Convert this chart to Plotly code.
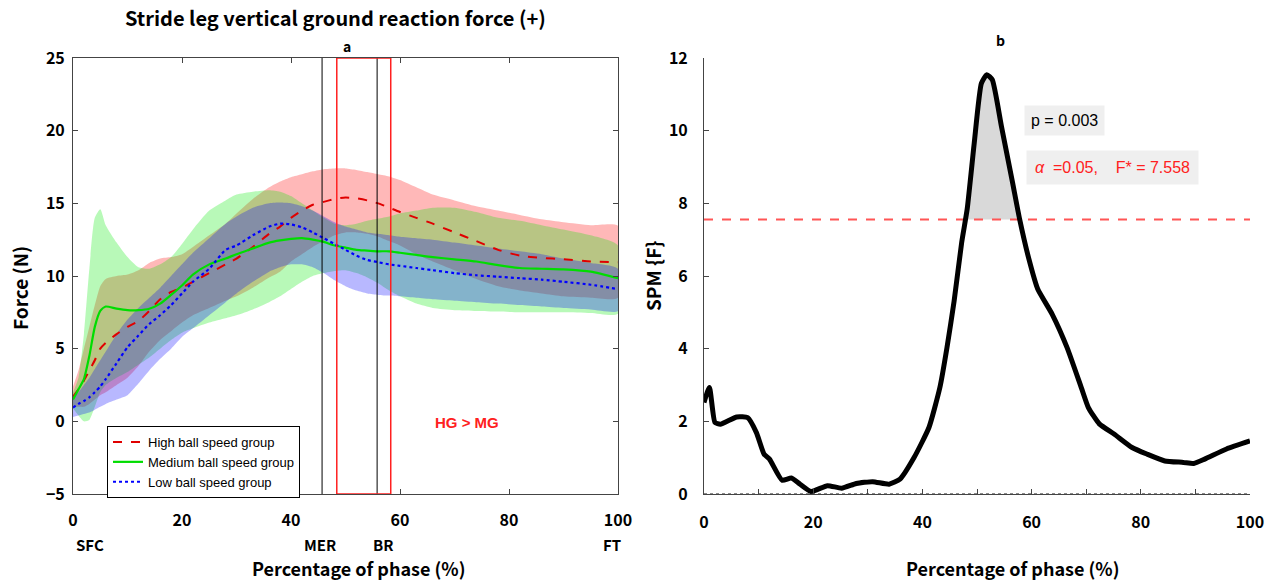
import numpy as np
import plotly.graph_objects as go

# ---------------- data ----------------
X = [0, 1, 2, 3, 4, 5, 6, 8, 10, 12, 14, 16, 18, 20, 22, 25, 28, 30, 33, 36, 38, 40, 42, 44, 46,
     48, 50, 52, 54, 56, 58, 60, 63, 66, 70, 74, 78, 82, 86, 90, 95, 100]

high_mean = [1.7, 2.2, 2.8, 3.5, 4.2, 5.0, 5.4, 6.0, 6.5, 6.9, 7.6, 8.4, 8.9, 9.2, 9.6, 10.2, 10.8, 11.2,
             12.0, 12.9, 13.4, 14.0, 14.5, 14.9, 15.1, 15.3, 15.4, 15.35, 15.2, 15.0, 14.7, 14.4, 14.0,
             13.6, 13.0, 12.4, 11.8, 11.4, 11.25, 11.15, 11.0, 10.95]
high_upper = [2.4, 3.5, 5.0, 6.5, 8.0, 9.3, 9.8, 10.0, 10.1, 10.4, 10.9, 11.2, 11.3, 11.5, 12.0, 12.8, 13.6,
              14.3, 15.3, 16.1, 16.5, 16.8, 17.0, 17.2, 17.35, 17.4, 17.4, 17.3, 17.15, 17.0, 16.85, 16.6,
              16.1, 15.6, 15.2, 14.8, 14.5, 14.2, 13.9, 13.7, 13.5, 13.45]
high_lower = [1.0, 1.0, 1.0, 1.2, 1.5, 1.8, 2.0, 2.5, 3.0, 3.8, 4.8, 5.6, 6.2, 6.8, 7.3, 7.8, 8.3, 8.6, 9.2,
              9.9, 10.3, 11.0, 11.5, 12.0, 12.4, 12.8, 13.0, 13.0, 12.9, 12.7, 12.4, 12.1, 11.5, 11.0,
              10.4, 9.8, 9.3, 9.0, 8.8, 8.6, 8.5, 8.5]

med_mean = [1.5, 2.2, 2.9, 4.5, 6.5, 7.6, 7.9, 7.75, 7.65, 7.65, 7.75, 8.1, 8.7, 9.35, 10.1, 10.8, 11.2,
            11.5, 11.9, 12.3, 12.45, 12.55, 12.6, 12.5, 12.35, 12.1, 11.95, 11.8, 11.75, 11.7, 11.7,
            11.6, 11.45, 11.3, 11.15, 11.0, 10.75, 10.55, 10.5, 10.45, 10.3, 9.85]
med_upper = [2.0, 3.0, 6.0, 10.5, 14.0, 14.6, 13.5, 12.3, 11.3, 10.6, 10.5, 10.8, 11.3, 12.2, 13.2, 14.5,
             15.2, 15.6, 15.8, 15.9, 15.8, 15.5, 15.0, 14.5, 14.0, 13.6, 13.5, 13.6, 13.8, 13.95, 14.1,
             14.3, 14.5, 14.7, 14.7, 14.4, 14.0, 13.8, 13.5, 13.2, 12.8, 12.1]
med_lower = [0.9, 0.4, 0.0, 0.1, 1.0, 2.0, 2.5, 3.0, 3.4, 3.9, 4.4, 5.0, 5.6, 6.1, 6.4, 6.8, 7.1, 7.3, 7.7,
             8.2, 8.6, 9.1, 9.6, 10.0, 10.2, 10.35, 10.4, 10.2, 9.9, 9.5, 9.0, 8.6, 8.1, 7.8, 7.65, 7.6,
             7.55, 7.5, 7.5, 7.5, 7.45, 7.4]

low_mean = [0.95, 1.2, 1.4, 1.65, 2.0, 2.4, 2.9, 4.0, 5.1, 5.9, 6.7, 7.3, 8.0, 8.8, 9.6, 10.5, 11.8, 12.1,
            12.8, 13.4, 13.6, 13.55, 13.35, 13.0, 12.6, 12.2, 11.8, 11.4, 11.1, 10.95, 10.8, 10.7, 10.55,
            10.4, 10.2, 10.05, 9.95, 9.85, 9.75, 9.6, 9.4, 9.1]
low_upper = [1.6, 2.0, 2.5, 3.0, 3.6, 4.2, 4.8, 6.0, 7.0, 7.8, 8.5, 9.2, 10.0, 10.8, 11.6, 12.6, 13.6, 14.1,
             14.7, 15.0, 15.05, 15.0, 14.8, 14.5, 14.1, 13.7, 13.4, 13.2, 13.0, 12.9, 12.8, 12.7, 12.6,
             12.5, 12.3, 12.1, 11.9, 11.7, 11.5, 11.2, 10.9, 10.5]
low_lower = [0.3, 0.4, 0.5, 0.6, 0.8, 1.0, 1.2, 1.5, 1.8, 2.6, 3.5, 4.3, 5.0, 5.8, 6.4, 7.3, 8.2, 8.8, 9.6,
             10.3, 10.6, 10.8, 10.8, 10.6, 10.2, 9.7, 9.3, 9.0, 8.8, 8.7, 8.65, 8.6, 8.5, 8.4, 8.3, 8.2,
             8.1, 8.0, 7.9, 7.8, 7.7, 7.6]

group_names = ["High ball speed group", "Medium ball speed group", "Low ball speed group"]

MER_X = 45.7
BR_X = 55.8
SIG_START = 48.4
SIG_END = 58.3

spm_x = [0, 1.0, 2, 3, 6, 8, 9.6, 11, 12, 14.3, 16, 17.6, 19.6, 22.6, 25.2, 27.9, 30.9, 33.9, 35.9, 38.5,
         41.2, 43.2, 44.5, 45.8, 47.2, 48.2, 49.5, 50.8, 51.8, 52.8, 54.5, 56.5, 57.8, 59.5, 61.1, 63.8,
         66.5, 69.1, 70.4, 72.4, 75.1, 78.4, 81.1, 84.4, 87.8, 89.7, 91.7, 95.7, 100]
spm_f = [2.52, 2.93, 1.97, 1.92, 2.12, 2.10, 1.69, 1.10, 0.96, 0.38, 0.44, 0.27, 0.07, 0.23, 0.16, 0.29,
         0.34, 0.27, 0.41, 1.01, 1.83, 2.93, 4.03, 5.3, 6.93, 7.84, 9.67, 11.3, 11.54, 11.4, 10.1, 8.58,
         7.57, 6.47, 5.65, 4.94, 4.03, 2.93, 2.38, 1.93, 1.65, 1.28, 1.10, 0.91, 0.87, 0.84, 0.96, 1.24, 1.46]
F_CRIT = 7.558
P_VALUE = 0.003
ALPHA = 0.05

# ---------------- figure ----------------
W, H = 1272, 583
def px(x):
    return x / W
def py(y):
    return 1 - y / H

FONT = "Noto Sans CJK KR, Noto Sans, sans-serif"
NARROW = "Liberation Sans Narrow, Arial Narrow, Liberation Sans, Arial, sans-serif"

fig = go.Figure()

band_cols = ["rgba(255,0,0,0.28)", "rgba(0,235,0,0.28)", "rgba(0,0,255,0.28)"]
bands = [(high_upper, high_lower), (med_upper, med_lower), (low_upper, low_lower)]
for (up, lo), col in zip(bands, band_cols):
    fig.add_trace(go.Scatter(x=X + X[::-1], y=up + lo[::-1], fill="toself", fillcolor=col,
                             line=dict(width=0, shape="spline", smoothing=0.6), mode="lines",
                             hoverinfo="skip", showlegend=False, xaxis="x", yaxis="y"))

means = [high_mean, med_mean, low_mean]
styles = [dict(color="#e00000", dash="dash", width=2),
          dict(color="#00dd00", dash="solid", width=2.2),
          dict(color="#0000ff", dash="dot", width=2.2)]
for m, s, n in zip(means, styles, group_names):
    fig.add_trace(go.Scatter(x=X, y=m, mode="lines", line=dict(shape="spline", smoothing=0.6, **s),
                             name=n, xaxis="x", yaxis="y"))

# SPM shaded region above threshold (crossings from data)
poly_x, poly_y = [], []
for i in range(len(spm_x) - 1):
    x0, x1, f0, f1 = spm_x[i], spm_x[i + 1], spm_f[i], spm_f[i + 1]
    if (f0 - F_CRIT) * (f1 - F_CRIT) < 0:
        xc = x0 + (F_CRIT - f0) * (x1 - x0) / (f1 - f0)
        poly_x.append(xc); poly_y.append(F_CRIT)
    if f1 > F_CRIT:
        poly_x.append(x1); poly_y.append(f1)
fig.add_trace(go.Scatter(x=poly_x, y=poly_y, fill="toself", fillcolor="#d9d9d9",
                         line=dict(width=0), mode="lines", showlegend=False, hoverinfo="skip",
                         xaxis="x2", yaxis="y2"))
fig.add_trace(go.Scatter(x=[0, 100], y=[F_CRIT, F_CRIT], mode="lines",
                         line=dict(color="#ff5555", dash="dash", width=2), showlegend=False,
                         xaxis="x2", yaxis="y2"))
fig.add_trace(go.Scatter(x=[0, 100], y=[0, 0], mode="lines",
                         line=dict(color="#666", dash="dot", width=1.5), showlegend=False,
                         xaxis="x2", yaxis="y2"))
fig.add_trace(go.Scatter(x=spm_x, y=spm_f, mode="lines",
                         line=dict(color="black", width=5, shape="spline", smoothing=0.5),
                         showlegend=False, xaxis="x2", yaxis="y2"))

# event lines and significance box
shapes = []
for xv in [MER_X, BR_X]:
    shapes.append(dict(type="line", xref="x", yref="y", x0=xv, x1=xv, y0=-5, y1=25,
                       line=dict(color="black", width=1)))
shapes.append(dict(type="rect", xref="x", yref="y", x0=SIG_START, x1=SIG_END, y0=-5, y1=25,
                   line=dict(color="#ff2020", width=1.5)))

tickfont = dict(family=FONT, size=16, color="black", weight="bold")
axline = dict(showline=True, linecolor="#444", linewidth=1, ticks="inside", tickcolor="#444",
              ticklen=5, showgrid=False, zeroline=False, tickfont=tickfont, automargin=False)

def ann(text, x, y, size, family=FONT, color="black", **kw):
    d = dict(text=text, x=px(x), y=py(y), xref="paper", yref="paper", showarrow=False,
             xanchor="center", yanchor="middle", font=dict(family=family, size=size, color=color))
    d.update(kw)
    return d

annotations = [
    ann("<b>Stride leg vertical ground reaction force (+)</b>", 335, 18, 20),
    ann("<b>a</b>", 347, 46, 14),
    ann("<b>b</b>", 1000, 40, 14),
    ann("<b>Force (N)</b>", 20, 288, 19, textangle=-90),
    ann("<b>SPM {F}</b>", 652, 276, 19, textangle=-90),
    ann("<b>Percentage of phase (%)</b>", 358, 568, 18),
    ann("<b>Percentage of phase (%)</b>", 1012, 568, 18),
    ann("<b>HG > MG</b>", 467, 422, 15, family=NARROW, color="#ff2020"),
    ann("p = " + f"{P_VALUE:.3f}", 1064, 120, 16, family="Liberation Sans, Arial, sans-serif",
        bgcolor="#efefef", borderpad=6),
    ann("<i>α</i>  =" + f"{ALPHA:.2f}" + ",&nbsp;&nbsp;&nbsp;&nbsp;F* = " + f"{F_CRIT:.3f}", 1112, 167, 16,
        family="Liberation Sans, Arial, sans-serif", color="#ff2020", bgcolor="#efefef", borderpad=8),
]
event_labels = [("SFC", 90), ("MER", 320), ("BR", 383), ("FT", 612)]
for lbl, xpix in event_labels:
    annotations.append(ann("<b>" + lbl + "</b>", xpix, 544, 15))

fig.update_layout(
    width=W, height=H, margin=dict(l=0, r=0, t=0, b=0, autoexpand=False),
    plot_bgcolor="white", paper_bgcolor="white",
    xaxis=dict(domain=[px(73), px(618)], range=[0, 100], dtick=20, mirror="ticks",
               ticklabelstandoff=12, anchor="y", **axline),
    yaxis=dict(domain=[py(494), py(58)], range=[-5, 25], dtick=5, mirror="ticks",
               ticklabelstandoff=4, anchor="x", **axline),
    xaxis2=dict(domain=[px(704), px(1250)], range=[0, 100], dtick=20, anchor="y2",
                ticklabelstandoff=14, minor=dict(dtick=10, ticks="inside", ticklen=5, tickcolor="#444"),
                **axline),
    yaxis2=dict(domain=[py(494), py(58)], range=[0, 12], dtick=2, anchor="x2",
                ticklabelstandoff=12, **axline),
    showlegend=True,
    legend=dict(x=px(107), y=py(426), xanchor="left", yanchor="top", bgcolor="white",
                bordercolor="black", borderwidth=1, font=dict(family=NARROW, size=13, color="black"),
                tracegroupgap=0, itemwidth=30),
    shapes=shapes, annotations=annotations,
)

fig.write_html("out.html", config={"displayModeBar": False},
               post_script="document.body.style.margin='0';document.body.style.overflow='hidden';")
